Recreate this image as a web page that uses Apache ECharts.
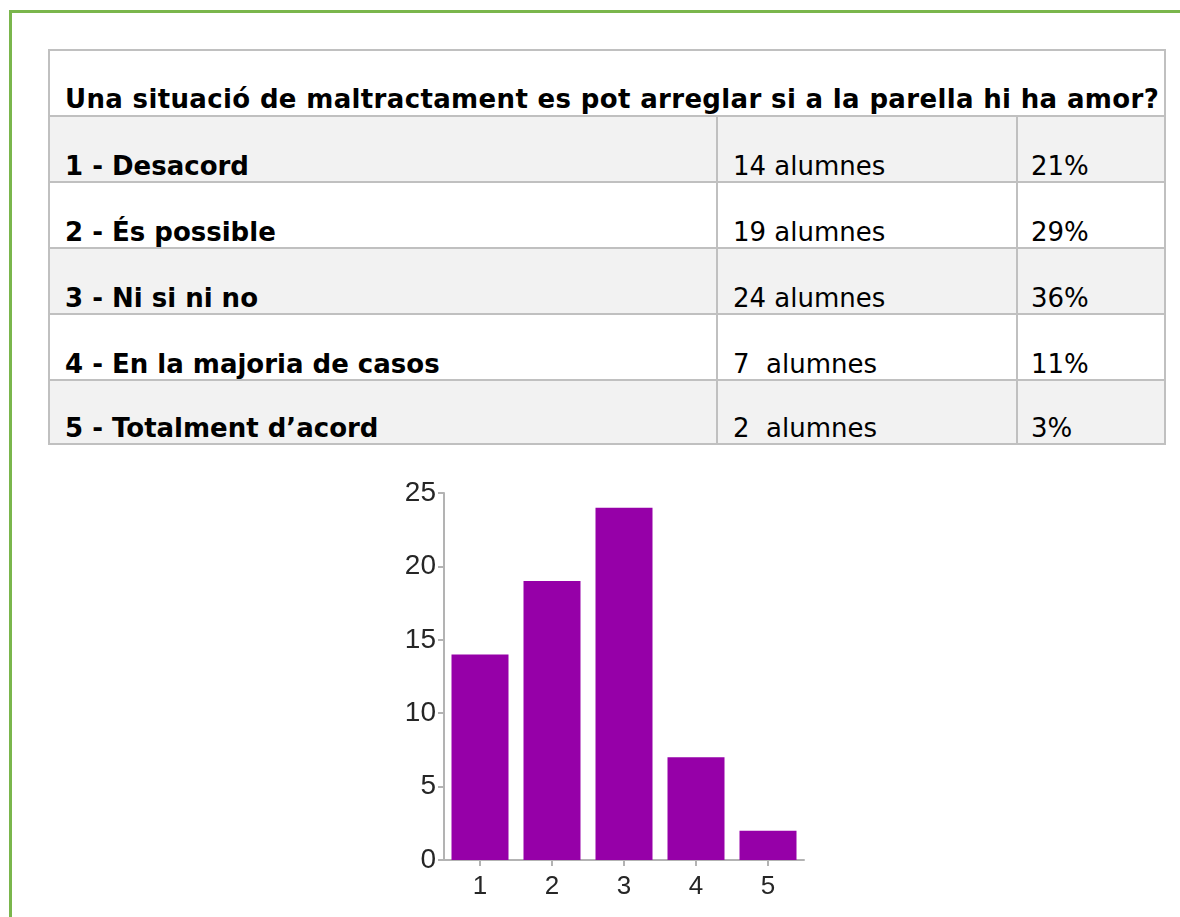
<!DOCTYPE html>
<html>
<head>
<meta charset="utf-8">
<script src="https://cdn.jsdelivr.net/npm/echarts@6/dist/echarts.min.js"></script>
<style>
  html, body { margin: 0; padding: 0; background: #fff; width: 1180px; height: 917px; overflow: hidden; position: relative; }
  #frameTop { position: absolute; left: 9px; top: 10px; width: 1171px; height: 3px; background: #7ab64c; }
  #frameLeft { position: absolute; left: 9px; top: 10px; width: 3px; height: 907px; background: #7ab64c; }
  #tbl { position: absolute; left: 48px; top: 49px; border-collapse: collapse; table-layout: fixed;
         font-family: "DejaVu Sans", Verdana, sans-serif; font-size: 26px; color: #000; }
  #tbl td { border: 2px solid #c0c0c0; vertical-align: bottom; padding: 0 0 0 15px; white-space: pre; line-height: 29px; overflow: hidden; }
  #tbl tr.g td { background: #f2f2f2; }
  #tbl td.b { font-weight: bold; }
  #tbl td.h { font-weight: bold; padding-left: 15px; letter-spacing: 0.35px; }
  #chart { position: absolute; left: 0; top: 450px; width: 1180px; height: 467px; }
</style>
</head>
<body>
<div id="frameTop"></div>
<div id="frameLeft"></div>
<table id="tbl"></table>
<div id="chart"></div>
<script>
const title = "Una situació de maltractament es pot arreglar si a la parella hi ha amor?";
const answers = ["1 - Desacord", "2 - És possible", "3 - Ni si ni no", "4 - En la majoria de casos", "5 - Totalment d\u2019acord"];
const counts = [14, 19, 24, 7, 2];
const countText = ["14 alumnes", "19 alumnes", "24 alumnes", "7  alumnes", "2  alumnes"];
const percents = ["21%", "29%", "36%", "11%", "3%"];
const categories = ["1", "2", "3", "4", "5"];
const yTicks = [0, 5, 10, 15, 20, 25];

// build table
const tbl = document.getElementById('tbl');
const colW = [668, 300, 148];
const cg = document.createElement('colgroup');
colW.forEach(w => { const c = document.createElement('col'); c.style.width = w + 'px'; cg.appendChild(c); });
tbl.appendChild(cg);
const hr = document.createElement('tr');
hr.style.height = '66px';
const hd = document.createElement('td');
hd.className = 'h'; hd.colSpan = 3; hd.textContent = title;
hd.style.paddingBottom = '1px';
hr.appendChild(hd);
tbl.appendChild(hr);
answers.forEach((a, i) => {
  const tr = document.createElement('tr');
  tr.style.height = (i === answers.length - 1 ? 64 : 66) + 'px';
  if (i % 2 === 0) tr.className = 'g';
  const c1 = document.createElement('td'); c1.className = 'b'; c1.textContent = a;
  const c2 = document.createElement('td'); c2.textContent = countText[i];
  const c3 = document.createElement('td'); c3.textContent = percents[i]; c3.style.paddingLeft = '13px';
  tr.appendChild(c1); tr.appendChild(c2); tr.appendChild(c3);
  tbl.appendChild(tr);
});

const chart = echarts.init(document.getElementById('chart'), null, { renderer: 'canvas' });
const axisTxt = { color: '#262626', fontFamily: 'Liberation Sans, Arial, sans-serif' };
chart.setOption({
  animation: false,
  grid: { left: 444, width: 360, top: 43, bottom: 57 },
  xAxis: {
    type: 'category',
    data: categories,
    axisLine: { show: true, lineStyle: { color: '#b3b3b3', width: 2 } },
    axisTick: { show: true, alignWithLabel: true, length: 6, lineStyle: { color: '#b3b3b3', width: 2 } },
    axisLabel: Object.assign({ fontSize: 26, margin: 14 }, axisTxt)
  },
  yAxis: {
    type: 'value',
    min: yTicks[0], max: yTicks[yTicks.length - 1], interval: yTicks[1] - yTicks[0],
    splitLine: { show: false },
    axisLine: { show: true, lineStyle: { color: '#b3b3b3', width: 2 } },
    axisTick: { show: true, length: 6, lineStyle: { color: '#b3b3b3', width: 2 } },
    axisLabel: Object.assign({ fontSize: 28, margin: 8 }, axisTxt)
  },
  series: [{
    type: 'bar',
    data: counts,
    barWidth: 57,
    itemStyle: { color: '#9600a8' }
  }]
});
</script>
</body>
</html>
